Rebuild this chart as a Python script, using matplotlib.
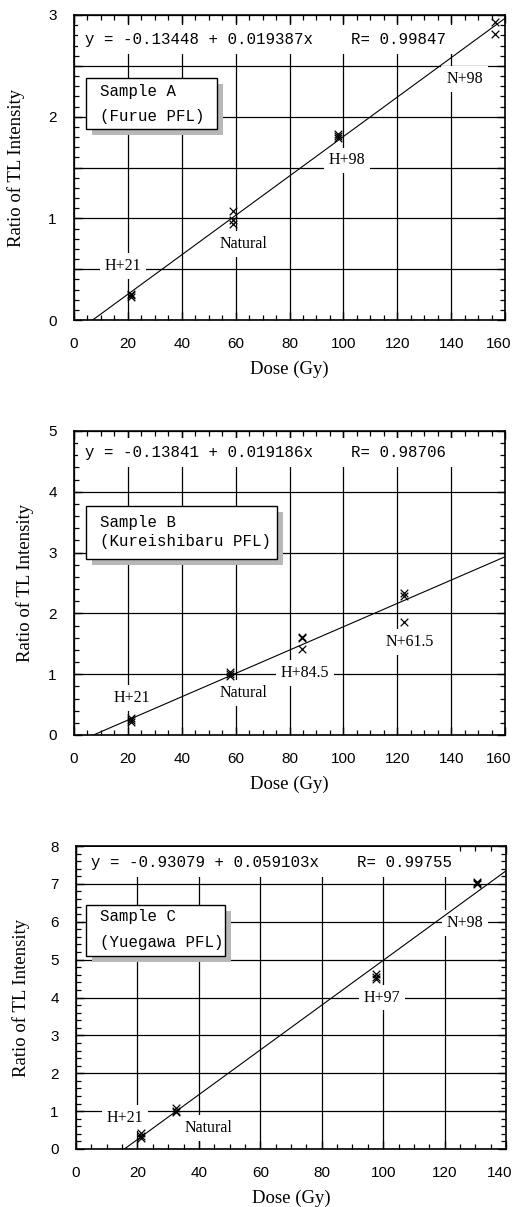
import matplotlib
matplotlib.use("Agg")
import matplotlib.pyplot as plt
from matplotlib import font_manager
from matplotlib.patches import Rectangle
from matplotlib.ticker import MultipleLocator, FuncFormatter
import matplotlib.transforms as mtransforms

# ---- data ----
dose_a = [21, 21, 21, 59, 59, 59, 98, 98, 98, 156.3, 156.3]
ratio_a = [0.23, 0.26, 0.25, 1.07, 0.98, 0.94, 1.79, 1.83, 1.81, 2.93, 2.81]
labels_a = ["H+21", "Natural", "H+98", "N+98"]
label_xy_a = [(18.2, 0.53), (62.8, 0.75), (101.2, 1.57), (145, 2.37)]
fit_a = (-0.13448, 0.019387, 0.99847)
sample_a = ["Sample A", "(Furue PFL)"]

dose_b = [21, 21, 21, 58, 58, 58, 84.5, 84.5, 84.5, 122.5, 122.5, 122.5]
ratio_b = [0.22, 0.25, 0.28, 0.97, 1.01, 1.04, 1.62, 1.59, 1.42, 2.33, 2.28, 1.86]
labels_b = ["H+21", "Natural", "H+84.5", "N+61.5"]
label_xy_b = [(21.4, 0.61), (62.8, 0.69), (85.7, 1.02), (124.7, 1.53)]
fit_b = (-0.13841, 0.019186, 0.98706)
sample_b = ["Sample B", "(Kureishibaru PFL)"]

dose_c = [21, 21, 21, 32.6, 32.6, 32.6, 97.7, 97.7, 97.7, 130.5, 130.5, 130.5]
ratio_c = [0.30, 0.42, 0.35, 0.97, 1.07, 1.01, 4.61, 4.49, 4.55, 7.05, 7.00, 7.02]
labels_c = ["H+21", "Natural", "H+97", "N+98"]
label_xy_c = [(16, 0.82), (43, 0.55), (99.6, 4.0), (126.7, 5.96)]
fit_c = (-0.93079, 0.059103, 0.99755)
sample_c = ["Sample C", "(Yuegawa PFL)"]

names = set(font_manager.get_font_names())
tick_font = "Liberation Sans Narrow" if "Liberation Sans Narrow" in names else "Liberation Sans"
serif = ["Liberation Serif", "DejaVu Serif"]
mono = ["Liberation Mono", "DejaVu Sans Mono"]

plt.rcParams["font.family"] = [tick_font, "DejaVu Sans"]

fig = plt.figure(figsize=(5.14, 12.07), dpi=100)

panels = [
    dict(rect=[74/514, 1-320/1207, 431/514, 305/1207], dose=dose_a, ratio=ratio_a,
         labels=labels_a, label_xy=label_xy_a, fit=fit_a, sample=sample_a,
         xmax=160, ymax=3, ymajor=0.5, yminor=0.1,
         eq_xy=(0.026, 0.92), box=(0.028, 0.626, 0.332, 0.793),
         txt_x=0.060, txt_y=(0.748, 0.666), ylab_x=-0.114),
    dict(rect=[74/514, 1-735/1207, 431/514, 304/1207], dose=dose_b, ratio=ratio_b,
         labels=labels_b, label_xy=label_xy_b, fit=fit_b, sample=sample_b,
         xmax=160, ymax=5, ymajor=1, yminor=0.2,
         eq_xy=(0.026, 0.93), box=(0.028, 0.579, 0.471, 0.753),
         txt_x=0.060, txt_y=(0.70, 0.635), ylab_x=-0.092),
    dict(rect=[76/514, 1-1149/1207, 430/514, 303/1207], dose=dose_c, ratio=ratio_c,
         labels=labels_c, label_xy=label_xy_c, fit=fit_c, sample=sample_c,
         xmax=140, ymax=8, ymajor=1, yminor=0.2,
         eq_xy=(0.035, 0.947), box=(0.023, 0.637, 0.347, 0.805),
         txt_x=0.056, txt_y=(0.766, 0.68), ylab_x=-0.107),
]


def int_only(v, _):
    return f"{v:.0f}" if abs(v - round(v)) < 1e-6 else ""


for p in panels:
    ax = fig.add_axes(p["rect"])
    ax.set_xlim(0, p["xmax"])
    ax.set_ylim(0, p["ymax"])
    ax.set_axisbelow(True)

    ax.xaxis.set_major_locator(MultipleLocator(20))
    ax.xaxis.set_minor_locator(MultipleLocator(5))
    ax.yaxis.set_major_locator(MultipleLocator(p["ymajor"]))
    ax.yaxis.set_minor_locator(MultipleLocator(p["yminor"]))
    ax.yaxis.set_major_formatter(FuncFormatter(int_only))
    ax.tick_params(which="both", direction="in", top=True, right=True,
                   labelsize=11, color="black", pad=12.5)
    ax.tick_params(which="major", length=5.5, width=1.0)
    ax.tick_params(which="minor", length=3.6, width=0.9)
    for s in ax.spines.values():
        s.set_linewidth(1.2)
    ax.grid(True, which="major", color="black", linewidth=0.9)

    # keep the last x tick label inside the figure
    locs = list(ax.xaxis.get_majorticklocs())
    ticks = ax.xaxis.get_major_ticks()
    for loc, tk in zip(locs, ticks):
        if abs(loc - p["xmax"]) < 1e-6:
            tk.label1.set_horizontalalignment("right")
            tk.label1.set_transform(tk.label1.get_transform()
                                    + mtransforms.ScaledTranslation(0.06, 0, fig.dpi_scale_trans))

    # fit line from y=0 to the right edge
    a, b, r = p["fit"]
    x0 = -a / b
    ax.plot([x0, p["xmax"]], [a + b * x0, a + b * p["xmax"]],
            color="black", linewidth=0.8, zorder=4)
    ax.scatter(p["dose"], p["ratio"], marker="x", s=30, color="black",
               linewidths=0.9, zorder=5)

    for txt, (lx, ly) in zip(p["labels"], p["label_xy"]):
        ax.text(lx, ly, txt, family=serif, fontsize=11.5, ha="center", va="center",
                zorder=3, bbox=dict(boxstyle="square,pad=0.3", fc="white", ec="none"))

    eq = f"y = {a:.5f} + {b:.6f}x    R= {r:.5f}"
    ax.text(p["eq_xy"][0], p["eq_xy"][1], eq, transform=ax.transAxes,
            family=mono, fontsize=11.3, ha="left", va="center", zorder=3,
            bbox=dict(boxstyle="square,pad=0.45", fc="white", ec="none"))

    # sample box with grey drop shadow
    bx0, by0, bx1, by1 = p["box"]
    shadow_tr = mtransforms.offset_copy(ax.transAxes, fig=fig, x=6, y=-6, units="dots")
    ax.add_patch(Rectangle((bx0, by0), bx1 - bx0, by1 - by0, transform=shadow_tr,
                           fc="#b8b8b8", ec="none", zorder=6))
    ax.add_patch(Rectangle((bx0, by0), bx1 - bx0, by1 - by0, transform=ax.transAxes,
                           fc="white", ec="black", lw=1.0, zorder=7))
    for line, ty in zip(p["sample"], p["txt_y"]):
        ax.text(p["txt_x"], ty, line, transform=ax.transAxes, family=mono,
                fontsize=11.3, ha="left", va="center", zorder=8)

    ax.set_xlabel("Dose (Gy)", family=serif, fontsize=13.5, labelpad=7)
    ax.set_ylabel("Ratio of TL Intensity", family=serif, fontsize=13.5)
    ax.yaxis.set_label_coords(p["ylab_x"], 0.5)

fig.savefig("out.png", dpi=100)
